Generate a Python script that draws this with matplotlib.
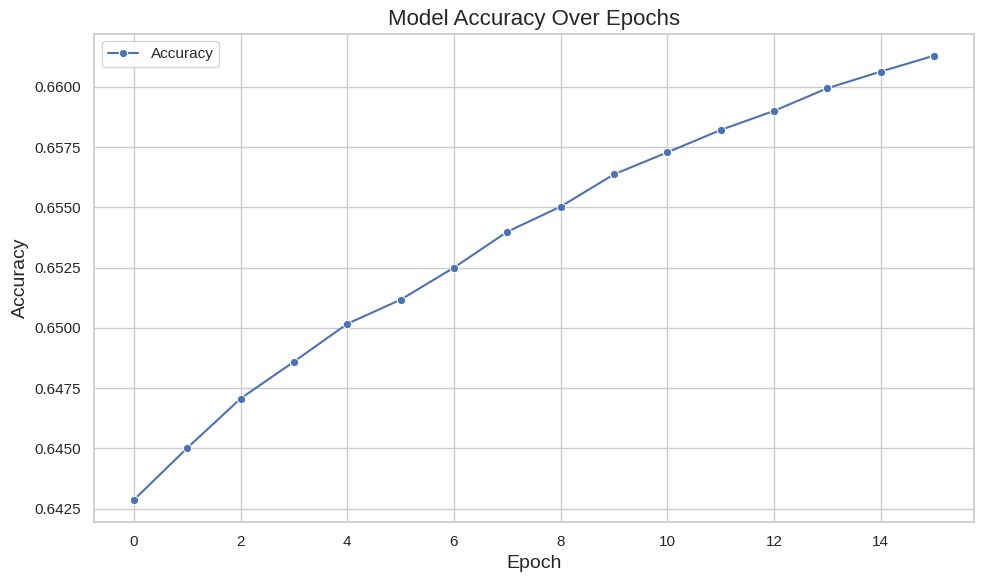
import matplotlib
matplotlib.use("Agg")
import matplotlib.pyplot as plt
import seaborn as sns

# Accuracy per epoch
epochs = list(range(16))
accuracy = [0.64287, 0.64502, 0.64707, 0.64860, 0.65017, 0.65117, 0.65250, 0.65399,
            0.65503, 0.65637, 0.65728, 0.65821, 0.65900, 0.65994, 0.66063, 0.66129]

sns.set_theme(style="whitegrid")
plt.rcParams["font.family"] = ["Liberation Sans", "DejaVu Sans"]

fig, ax = plt.subplots(figsize=(9.84, 5.84), dpi=100)
sns.lineplot(x=epochs, y=accuracy, marker="o", label="Accuracy", ax=ax)

ax.set_title("Model Accuracy Over Epochs", fontsize=16)
ax.set_xlabel("Epoch", fontsize=14)
ax.set_ylabel("Accuracy", fontsize=14)
ax.legend(loc="upper left")

fig.subplots_adjust(left=0.0955, right=0.9898, top=0.9426, bottom=0.1062)
plt.savefig("out.png", dpi=100)
